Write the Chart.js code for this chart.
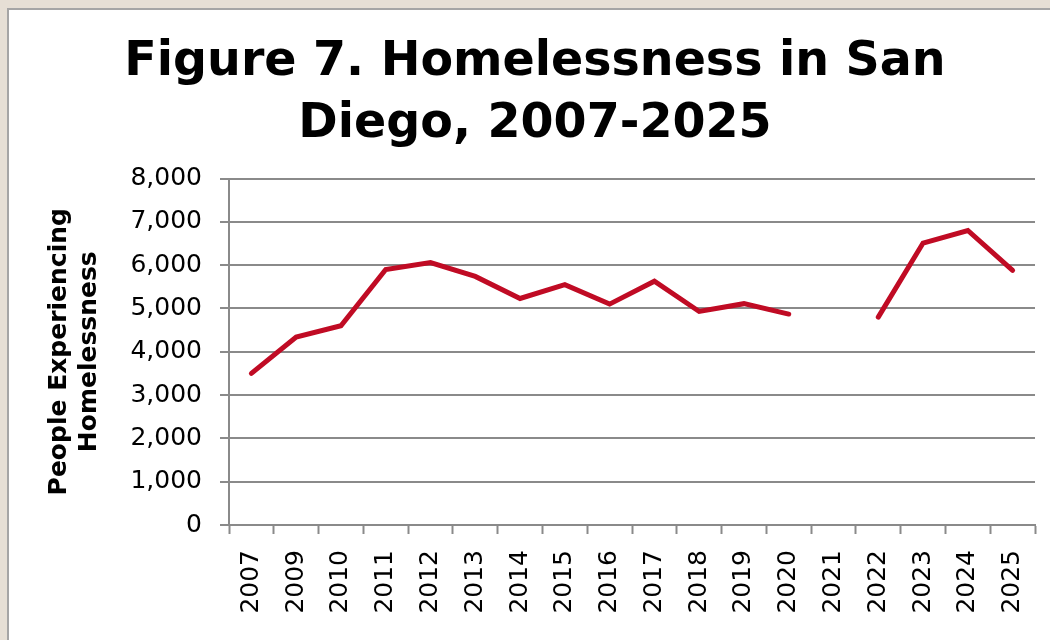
<!DOCTYPE html>
<html>
<head>
<meta charset="utf-8">
<title>Homelessness in San Diego</title>
<script src="https://cdn.jsdelivr.net/npm/chart.js@4.4.1/dist/chart.umd.min.js"></script>
<style>
    html, body { margin: 0; padding: 0; }
    body { width: 1050px; height: 640px; background: #e6dfd5; position: relative; overflow: hidden; }
    /* white panel with the grey frame */
    #panel { position: absolute; left: 7px; top: 8px; width: 1050px; height: 640px; background: #fff; border-left: 2px solid #a5a5a5; border-top: 2px solid #a5a5a5; }
    #chartHomeless { position: absolute; left: 0; top: 0; }
</style>
</head>
<body>
<div id="panel"></div>
<canvas id="chartHomeless" width="1050" height="640"></canvas>
<script>
// ---------- Données ----------
const years = ['2007', '2009', '2010', '2011', '2012', '2013', '2014', '2015', '2016',
               '2017', '2018', '2019', '2020', '2021', '2022', '2023', '2024', '2025'];
// pas de comptage en 2021 -> null (trou dans la ligne)
const homelessCounts = [3500, 4340, 4600, 5900, 6060, 5740, 5230, 5550, 5100,
                        5630, 4930, 5110, 4870, null, 4800, 6510, 6800, 5880];
const titleLines = ['Figure 7. Homelessness in San', 'Diego, 2007-2025'];
const yTitleLines = ['People Experiencing', 'Homelessness'];

const gridGrey = '#8a8a8a';

const ctx = document.getElementById('chartHomeless').getContext('2d');
new Chart(ctx, {
    type: 'line',
    data: {
        labels: years,
        datasets: [{
            label: 'Homelessness',
            data: homelessCounts,
            borderColor: '#c00b24',
            backgroundColor: '#c00b24',
            borderWidth: 5,
            borderCapStyle: 'round',
            borderJoinStyle: 'miter',
            pointRadius: 0,
            tension: 0,
            spanGaps: false
        }]
    },
    options: {
        responsive: false,
        animation: false,
        devicePixelRatio: 1,
        layout: {
            padding: { left: 20, right: 0, top: 10, bottom: 0 }
        },
        plugins: {
            legend: { display: false },
            tooltip: { enabled: false },
            title: {
                display: true,
                text: titleLines,
                color: '#000',
                font: { family: 'DejaVu Sans', size: 47.5, weight: 'bold', lineHeight: 1.3 },
                padding: { top: 22, bottom: 23 }
            }
        },
        scales: {
            x: {
                offset: true,
                grid: {
                    offset: true,
                    drawOnChartArea: false,
                    drawTicks: true,
                    tickLength: 9,
                    tickColor: gridGrey,
                    tickWidth: 2
                },
                border: { color: gridGrey, width: 2 },
                ticks: {
                    color: '#000',
                    font: { family: 'DejaVu Sans', size: 25 },
                    minRotation: 90,
                    maxRotation: 90,
                    padding: 16,
                    autoSkip: false
                },
                afterFit: function (scale) {
                    scale.height = 115;
                    // les libellés tournés ne débordent pas : pas de marge latérale
                    scale.paddingLeft = 0;
                    scale.paddingRight = 0;
                }
            },
            y: {
                min: 0,
                max: 8000,
                ticks: {
                    stepSize: 1000,
                    color: '#000',
                    font: { family: 'DejaVu Sans', size: 25 },
                    padding: 18,
                    callback: function (value) {
                        return value.toLocaleString('en-US');
                    }
                },
                grid: {
                    color: gridGrey,
                    lineWidth: 2,
                    drawTicks: true,
                    tickLength: 9
                },
                border: { color: gridGrey, width: 2 },
                title: {
                    display: true,
                    text: yTitleLines,
                    color: '#000',
                    font: { family: 'DejaVu Sans', size: 25, weight: 'bold', lineHeight: 1.2 },
                    padding: { top: 24, bottom: 0 }
                },
                afterFit: function (scale) {
                    scale.width = 209;
                }
            },
            // marge à droite du graphique (axe vide)
            yRight: {
                position: 'right',
                min: 0,
                max: 8000,
                grid: { drawOnChartArea: false, drawTicks: false },
                border: { display: false },
                ticks: { display: false },
                afterFit: function (scale) {
                    scale.width = 15;
                }
            }
        }
    }
});
</script>
</body>
</html>
